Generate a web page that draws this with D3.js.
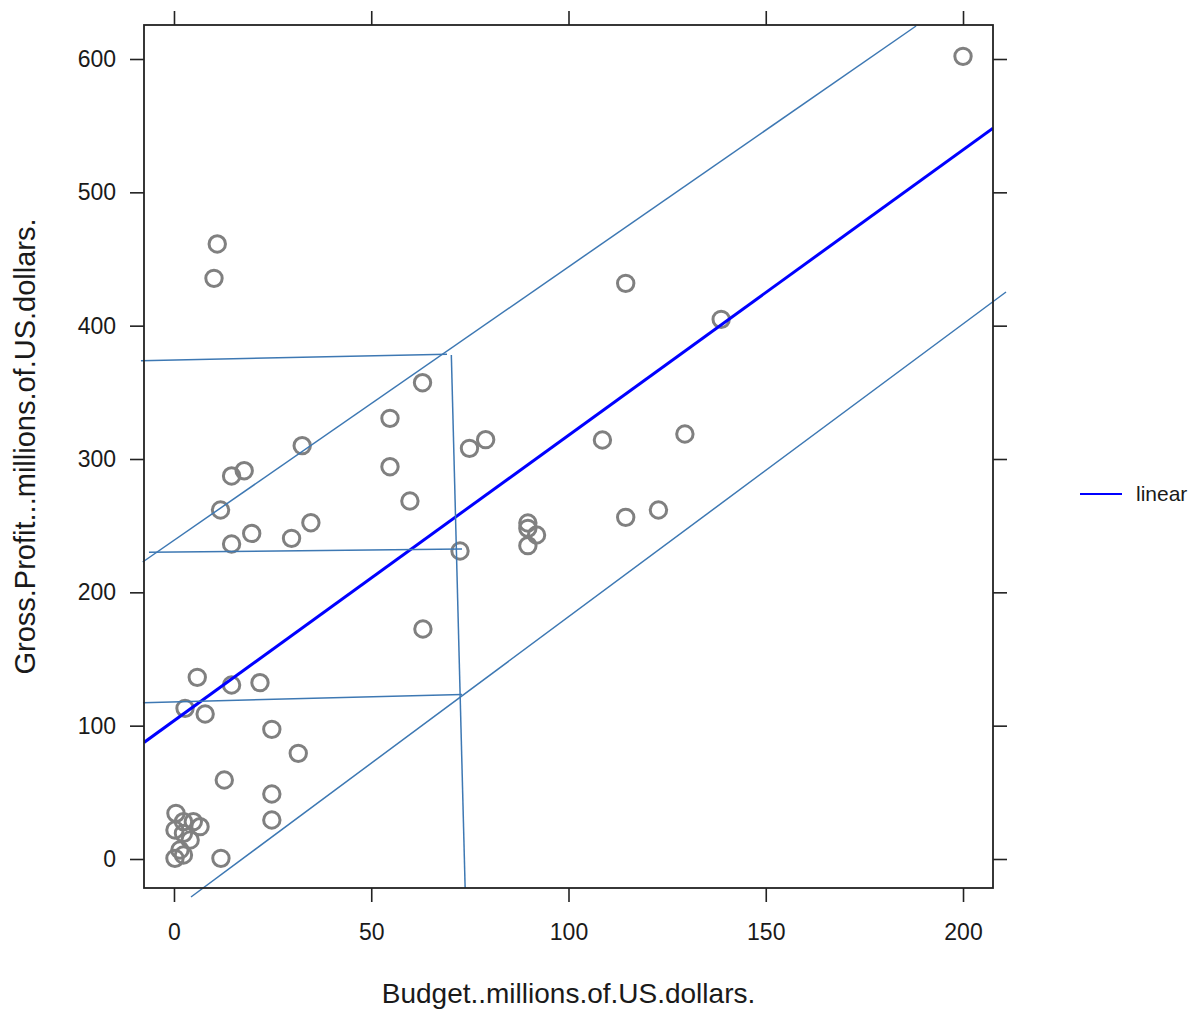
<!DOCTYPE html>
<html>
<head>
<meta charset="utf-8">
<script src="https://cdn.jsdelivr.net/npm/d3@7"></script>
<style>
  html, body { margin: 0; padding: 0; background: #fff; }
  svg { display: block; }
  text { font-family: "Liberation Sans", Arial, sans-serif; fill: #1a1a1a; }
</style>
</head>
<body>
<svg id="chart" width="1203" height="1011"></svg>
<script>
// ---- data ----
const budget = [200, 10.97, 10.14, 114.5, 138.7, 63.0, 54.75, 32.5, 74.9, 79.0,
  108.6, 129.5, 54.75, 17.8, 14.6, 59.8, 11.8, 34.7, 19.7, 29.8,
  14.6, 114.5, 122.8, 89.7, 89.7, 91.9, 89.7, 72.5, 63.1, 5.9,
  14.6, 21.8, 2.8, 7.9, 24.8, 31.5, 12.75, 24.8, 24.8, 11.9,
  0.5, 2.4, 4.9, 6.6, 0.25, 2.4, 4.1, 1.5, 0.25, 2.4];
const grossProfit = [602, 461.3, 435.5, 431.75, 404.75, 357.2, 330.5, 310, 308, 314.5,
  314.25, 318.75, 294.2, 291.2, 287.3, 268.5, 261.75, 252.2, 244.2, 240.5,
  236.25, 256.25, 261.75, 252, 248, 243, 235, 231, 172.5, 136.25,
  130.5, 132.25, 113, 108.75, 97.25, 79.25, 59.25, 48.75, 29.25, 0.5,
  34.25, 28, 28, 24.25, 21.75, 19.25, 14.25, 6.75, 0.5, 3];

const xTicks = [0, 50, 100, 150, 200];
const yTicks = [0, 100, 200, 300, 400, 500, 600];

// linear fit (drawn across the panel)
const fitIntercept = 103.7;
const fitSlope = 2.141;

// annotation segments [x1, y1, x2, y2] in data units
const segBudget = [
  [-8.37, 373.7, 69.2, 378.5],
  [70.3, 378.0, 73.8, -21.75],
  [-6.34, 230.0, 73.0, 232.5],
  [-7.86, 117.2, 73.0, 123.4]
];
const segBand = [
  [-7.93, 222.75, 188.1, 624.75],
  [4.31, -28.5, 210.9, 425.25]
];

const xLabel = "Budget..millions.of.US.dollars.";
const yLabel = "Gross.Profit...millions.of.US.dollars.";
const legendLabels = ["linear"];

// ---- layout ----
const L = 144, R = 993, T = 25, B = 888;
const svg = d3.select("#chart");

const x = d3.scaleLinear().domain([-7.6, 207.6]).range([L, R]);
const y = d3.scaleLinear().domain([-21.75, 625.5]).range([B, T]);

// clip for panel content
svg.append("clipPath").attr("id", "panel")
  .append("rect").attr("x", L).attr("y", T).attr("width", R - L).attr("height", B - T);

// axes
const tickColor = "#222";
function styleAxis(g) {
  g.select(".domain").remove();
  g.selectAll(".tick line").attr("stroke", tickColor).attr("stroke-width", 1.6);
  g.selectAll(".tick text").style("font-size", "23px").attr("fill", "#1a1a1a");
}
svg.append("g").attr("transform", `translate(0,${B})`)
  .call(d3.axisBottom(x).tickValues(xTicks).tickSize(14).tickPadding(22).tickSizeOuter(0))
  .call(styleAxis);
svg.append("g").attr("transform", `translate(0,${T})`)
  .call(d3.axisTop(x).tickValues(xTicks).tickSize(14).tickFormat("").tickSizeOuter(0))
  .call(styleAxis);
svg.append("g").attr("transform", `translate(${L},0)`)
  .call(d3.axisLeft(y).tickValues(yTicks).tickSize(14).tickPadding(14).tickSizeOuter(0))
  .call(styleAxis);
svg.append("g").attr("transform", `translate(${R},0)`)
  .call(d3.axisRight(y).tickValues(yTicks).tickSize(14).tickFormat("").tickSizeOuter(0))
  .call(styleAxis);

// points
svg.append("g").attr("clip-path", "url(#panel)")
  .selectAll("circle").data(budget.map((b, i) => [b, grossProfit[i]]))
  .join("circle")
  .attr("cx", d => x(d[0])).attr("cy", d => y(d[1])).attr("r", 8.2)
  .attr("fill", "none").attr("stroke", "#808080").attr("stroke-width", 3);

// fitted line
const xd = x.domain();
svg.append("line").attr("clip-path", "url(#panel)")
  .attr("x1", x(xd[0])).attr("y1", y(fitIntercept + fitSlope * xd[0]))
  .attr("x2", x(xd[1])).attr("y2", y(fitIntercept + fitSlope * xd[1]))
  .attr("stroke", "#0000ff").attr("stroke-width", 3);

// annotation lines
svg.append("g").selectAll("line").data(segBudget.concat(segBand))
  .join("line")
  .attr("x1", d => x(d[0])).attr("y1", d => y(d[1]))
  .attr("x2", d => x(d[2])).attr("y2", d => y(d[3]))
  .attr("stroke", "#3d78b3").attr("stroke-width", 1.5);

// panel border
svg.append("rect").attr("x", L).attr("y", T).attr("width", R - L).attr("height", B - T)
  .attr("fill", "none").attr("stroke", "#222").attr("stroke-width", 1.8);

// axis titles
svg.append("text").attr("x", (L + R) / 2).attr("y", 1003)
  .attr("text-anchor", "middle").style("font-size", "28px").text(xLabel);
svg.append("text").attr("transform", `translate(35,${(T + B) / 2 - 10}) rotate(-90)`)
  .attr("text-anchor", "middle").style("font-size", "29px").text(yLabel);

// legend
const lg = svg.append("g");
lg.append("line").attr("x1", 1080).attr("x2", 1122).attr("y1", 494).attr("y2", 494)
  .attr("stroke", "#0000ff").attr("stroke-width", 2);
lg.append("text").attr("x", 1136).attr("y", 501).style("font-size", "21px").text(legendLabels[0]);
</script>
</body>
</html>
